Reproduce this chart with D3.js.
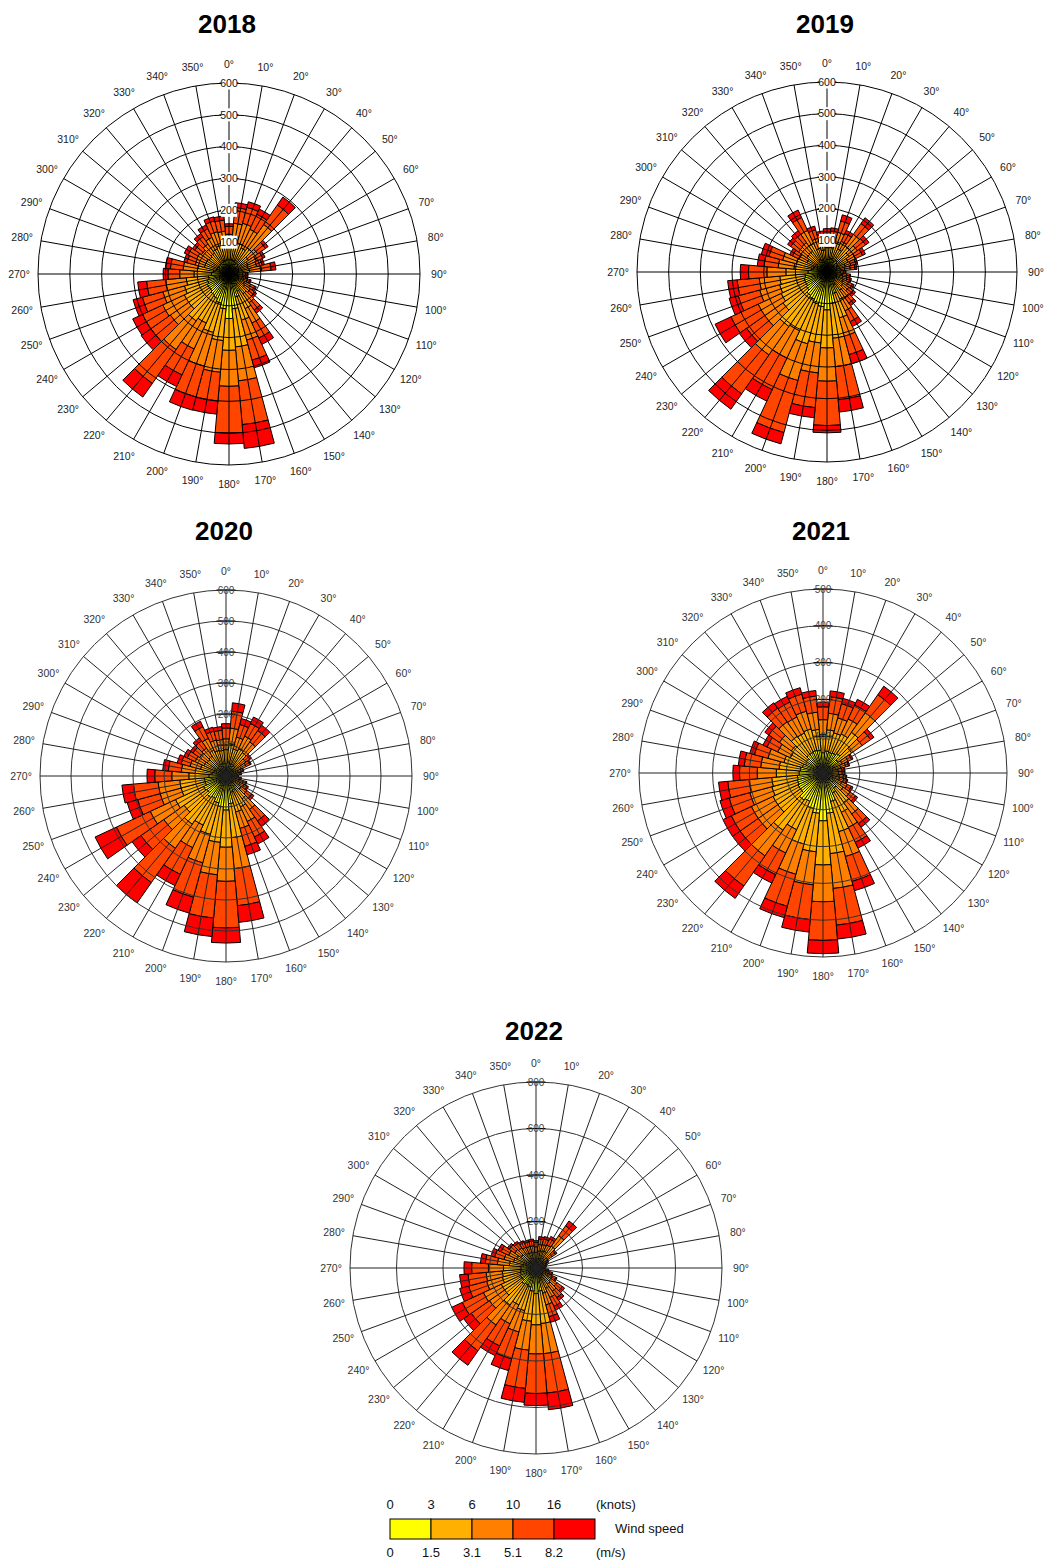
<!DOCTYPE html>
<html>
<head>
<meta charset="utf-8">
<script src="https://cdn.jsdelivr.net/npm/d3@7"></script>
<style>
  body { margin: 0; background: #fff; }
  svg { display: block; font-family: "Liberation Sans", Arial, sans-serif; }
</style>
</head>
<body>
<svg id="chart" width="1045" height="1560"></svg>
<script>
// wind direction bins (degrees, 10 deg wide)
var directions = [0, 10, 20, 30, 40, 50, 60, 70, 80, 90, 100, 110, 120, 130, 140, 150, 160, 170,
                  180, 190, 200, 210, 220, 230, 240, 250, 260, 270, 280, 290, 300, 310, 320, 330, 340, 350];

// speed classes (m/s) and their colours
var speedClasses = ["0-1.5", "1.5-3.1", "3.1-5.1", "5.1-8.2", ">8.2"];
var speedColors = ["#ffff00", "#ffb000", "#ff8000", "#ff4500", "#ff0000"];
var knotLabels = ["0", "3", "6", "10", "16"];
var msLabels = ["0", "1.5", "3.1", "5.1", "8.2"];

// counts per direction, one array per speed class
var s1_2018 = [45,45,45,40,40,35,30,30,30,25,25,28,30,32,38,60,75,110,140,110,95,85,80,75,75,70,65,55,50,40,40,38,40,42,45,45];
var s2_2018 = [45,55,55,50,60,40,35,32,35,18,18,20,25,28,38,60,75,120,100,100,95,85,100,80,80,75,70,55,50,40,40,38,40,45,48,48];
var s3_2018 = [35,60,65,65,90,35,30,28,38,10,10,12,20,22,34,50,65,107,113,100,110,90,110,70,75,70,65,45,45,30,32,30,35,40,45,42];
var s4_2018 = [25,50,52,52,75,30,22,18,30,5,5,8,14,16,28,52,65,138,147,91,100,90,130,75,70,67,60,37,40,27,30,25,28,30,35,35];
var s5_2018 = [8,15,18,18,30,10,8,7,15,2,2,4,6,8,12,22,25,75,34,41,43,40,52,37,34,30,28,15,16,10,13,9,12,13,13,13];

var s1_2019 = [40,40,45,40,45,40,38,32,30,24,28,28,30,32,35,45,70,100,120,110,105,95,90,80,75,75,70,60,50,45,35,38,38,45,38,35];
var s2_2019 = [37,38,50,40,55,45,36,28,26,18,22,24,27,30,35,50,80,110,120,115,130,110,120,90,85,80,80,70,55,55,35,40,42,55,40,35];
var s3_2019 = [25,25,35,27,45,32,25,18,18,10,13,14,18,22,27,40,60,90,105,95,120,95,110,70,80,65,65,60,50,45,27,32,33,45,32,27];
var s4_2019 = [25,27,37,27,42,32,25,16,15,6,9,10,14,18,23,38,60,105,140,110,170,110,150,70,95,70,70,58,45,45,23,30,32,45,28,23];
var s5_2019 = [10,10,20,11,22,13,10,6,6,2,3,4,6,8,10,17,30,39,23,32,37,40,59,28,55,30,30,26,21,25,10,12,14,26,12,10];

var s1_2020 = [40,45,40,42,40,30,28,22,20,16,20,25,27,30,40,50,55,90,110,100,90,80,85,75,80,70,70,55,45,40,38,36,38,42,40,40];
var s2_2020 = [45,60,50,55,52,28,26,18,15,12,15,20,23,30,50,60,65,110,120,115,105,95,105,90,100,80,80,65,55,45,40,38,40,50,45,43];
var s3_2020 = [35,50,40,45,42,20,18,11,9,7,8,13,15,22,42,52,55,100,110,105,95,80,95,80,90,70,70,55,45,35,32,30,32,42,35,35];
var s4_2020 = [35,55,42,45,45,16,13,7,5,4,5,9,11,20,45,55,60,120,150,140,115,95,135,90,120,75,80,55,42,30,28,26,28,42,30,30];
var s5_2020 = [14,27,20,23,21,6,5,2,1,1,2,3,4,8,21,25,28,54,49,60,53,40,80,35,76,35,37,25,18,13,12,10,12,19,13,12];

var s1_2021 = [55,60,58,60,65,50,32,28,24,24,25,26,30,35,50,60,80,110,130,110,100,85,90,75,75,72,70,65,62,58,52,55,62,62,64,62];
var s2_2021 = [50,58,55,57,70,45,26,22,18,18,20,21,26,32,48,58,85,110,120,105,100,85,100,75,75,72,70,62,58,52,46,50,60,58,60,57];
var s3_2021 = [40,45,42,45,65,35,17,14,10,10,11,12,17,23,38,45,70,95,100,90,85,70,85,65,65,62,62,52,50,45,38,40,48,48,50,47];
var s4_2021 = [35,45,40,42,60,28,11,8,6,6,7,8,12,18,32,45,70,100,105,95,90,65,100,60,60,58,58,48,45,38,32,35,45,45,48,44];
var s5_2021 = [13,16,15,17,28,11,4,3,2,2,2,3,5,7,12,17,26,38,36,34,32,25,41,25,25,26,25,18,16,13,12,13,18,17,18,15];

var s1_2022 = [35,38,38,40,50,32,22,20,18,16,20,25,30,38,40,45,50,100,110,100,85,80,85,75,75,70,68,65,55,48,45,40,38,36,35,35];
var s2_2022 = [32,36,38,40,65,30,18,15,14,12,16,22,28,40,45,52,62,140,135,130,105,95,110,90,90,80,78,75,60,52,47,40,38,35,34,34];
var s3_2022 = [24,28,28,30,55,22,11,9,8,7,10,14,20,32,37,43,52,130,125,125,95,90,105,80,85,70,70,65,52,42,38,32,30,28,27,27];
var s4_2022 = [19,24,26,28,52,18,7,5,4,4,7,10,16,28,34,42,53,170,170,165,120,105,135,95,100,80,78,72,52,42,36,28,25,23,21,21];
var s5_2022 = [8,10,10,12,25,8,2,1,1,1,2,4,6,12,14,18,25,72,52,60,52,46,76,40,50,40,36,33,21,16,14,10,9,8,8,8];

// radial tick labels for each rose
var ticks2018 = [100, 200, 300, 400, 500, 600];
var ticks2019 = [100, 200, 300, 400, 500, 600];
var ticks2020 = [100, 200, 300, 400, 500, 600];
var ticks2021 = [100, 200, 300, 400, 500];
var ticks2022 = [200, 400, 600, 800];

var svg = d3.select("#chart");
svg.append("rect").attr("width", 1045).attr("height", 1560).attr("fill", "#fff");

var roses = [
    {title: "2018", cx: 229, cy: 274, r: 191, ty: 33,   ticks: ticks2018, boxed: true,  data: [s1_2018, s2_2018, s3_2018, s4_2018, s5_2018]},
    {title: "2019", cx: 827, cy: 272, r: 190, ty: 33,   ticks: ticks2019, boxed: true,  data: [s1_2019, s2_2019, s3_2019, s4_2019, s5_2019]},
    {title: "2020", cx: 226, cy: 776, r: 186, ty: 540,  ticks: ticks2020, boxed: false, data: [s1_2020, s2_2020, s3_2020, s4_2020, s5_2020]},
    {title: "2021", cx: 823, cy: 773, r: 184, ty: 540,  ticks: ticks2021, boxed: false, data: [s1_2021, s2_2021, s3_2021, s4_2021, s5_2021]},
    {title: "2022", cx: 536, cy: 1268, r: 186, ty: 1040, ticks: ticks2022, boxed: false, data: [s1_2022, s2_2022, s3_2022, s4_2022, s5_2022]}
];

var keys = speedClasses.map(function (d, i) { return "k" + i; });
var rad = Math.PI / 180;

roses.forEach(function (cfg) {
    // title
    svg.append("text")
        .attr("x", cfg.cx - 2)
        .attr("y", cfg.ty)
        .attr("text-anchor", "middle")
        .attr("font-size", 26)
        .attr("font-weight", "bold")
        .attr("fill", "#000")
        .text(cfg.title);

    var g = svg.append("g").attr("transform", "translate(" + cfg.cx + "," + cfg.cy + ")");

    var rScale = d3.scaleLinear()
        .domain([0, d3.max(cfg.ticks)])
        .range([0, cfg.r]);

    // table for d3.stack
    var rows = directions.map(function (dir, i) {
        var row = {dir: dir};
        cfg.data.forEach(function (arr, k) { row["k" + k] = arr[i]; });
        return row;
    });
    var series = d3.stack().keys(keys)(rows);

    var arc = d3.arc()
        .innerRadius(function (d) { return rScale(d[0]); })
        .outerRadius(function (d) { return rScale(d[1]); })
        .startAngle(function (d) { return (d.data.dir - 5) * rad; })
        .endAngle(function (d) { return (d.data.dir + 5) * rad; });

    g.selectAll("g.layer")
        .data(series)
        .enter()
        .append("g")
        .attr("class", "layer")
        .attr("fill", function (d, i) { return speedColors[i]; })
        .selectAll("path")
        .data(function (d) { return d; })
        .enter()
        .append("path")
        .attr("d", arc)
        .attr("stroke", "#000")
        .attr("stroke-width", 1);

    // grid on top of the bars
    g.selectAll("circle.ring")
        .data(cfg.ticks)
        .enter()
        .append("circle")
        .attr("class", "ring")
        .attr("r", function (d) { return rScale(d); })
        .attr("fill", "none")
        .attr("stroke", cfg.boxed ? "#000" : "#333")
        .attr("stroke-width", 1);

    g.selectAll("line.spoke")
        .data(directions)
        .enter()
        .append("line")
        .attr("class", "spoke")
        .attr("x1", 0).attr("y1", 0)
        .attr("x2", function (d) { return cfg.r * Math.sin(d * rad); })
        .attr("y2", function (d) { return -cfg.r * Math.cos(d * rad); })
        .attr("stroke", cfg.boxed ? "#000" : "#222")
        .attr("stroke-width", 1);

    // direction labels
    g.selectAll("text.dir")
        .data(directions)
        .enter()
        .append("text")
        .attr("class", "dir")
        .attr("x", function (d) { return (cfg.r + 19) * Math.sin(d * rad); })
        .attr("y", function (d) { return -(cfg.r + 19) * Math.cos(d * rad); })
        .attr("dy", "0.35em")
        .attr("text-anchor", "middle")
        .attr("font-size", 10.5)
        .attr("fill", cfg.boxed ? "#222" : "#333")
        .text(function (d) { return d + "\u00b0"; });

    // radial ticks and labels along the 0 deg spoke
    var tk = g.selectAll("g.rtick")
        .data(cfg.ticks)
        .enter()
        .append("g")
        .attr("class", "rtick")
        .attr("transform", function (d) { return "translate(0," + (-rScale(d)) + ")"; });

    tk.append("line")
        .attr("x1", -9.5).attr("x2", 9.5)
        .attr("stroke", "#000")
        .attr("stroke-width", 1);

    if (cfg.boxed) {
        tk.append("rect")
            .attr("x", -8).attr("y", -6.5)
            .attr("width", 16).attr("height", 13)
            .attr("fill", "#fff");
    }

    tk.append("text")
        .attr("dy", "0.35em")
        .attr("text-anchor", "middle")
        .attr("font-size", cfg.boxed ? 10.5 : 10)
        .attr("fill", cfg.boxed ? "#111" : "#444")
        .text(function (d) { return d; });
});

// legend
var lx = 390, lw = 41, ly = 1519, lh = 20;
var legend = svg.append("g").attr("font-size", 13).attr("fill", "#111");

legend.selectAll("rect")
    .data(speedColors)
    .enter()
    .append("rect")
    .attr("x", function (d, i) { return lx + i * lw; })
    .attr("y", ly)
    .attr("width", lw)
    .attr("height", lh)
    .attr("fill", function (d) { return d; })
    .attr("stroke", "#000")
    .attr("stroke-width", 1);

legend.selectAll("text.kn")
    .data(knotLabels)
    .enter()
    .append("text")
    .attr("class", "kn")
    .attr("x", function (d, i) { return lx + i * lw; })
    .attr("y", 1509)
    .attr("text-anchor", "middle")
    .text(function (d) { return d; });

legend.selectAll("text.ms")
    .data(msLabels)
    .enter()
    .append("text")
    .attr("class", "ms")
    .attr("x", function (d, i) { return lx + i * lw; })
    .attr("y", 1557)
    .attr("text-anchor", "middle")
    .text(function (d) { return d; });

legend.append("text").attr("x", 596).attr("y", 1509).text("(knots)");
legend.append("text").attr("x", 596).attr("y", 1557).text("(m/s)");
legend.append("text").attr("x", 615).attr("y", 1533).text("Wind speed");
</script>
</body>
</html>
